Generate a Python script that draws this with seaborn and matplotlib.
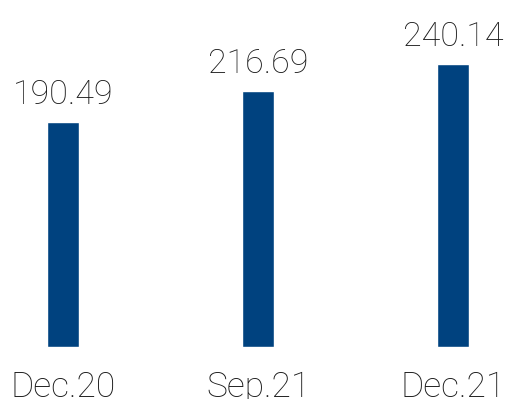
import matplotlib
matplotlib.use("Agg")
import matplotlib.pyplot as plt
import seaborn as sns
import pandas as pd

periods = ["Dec.20", "Sep.21", "Dec.21"]
values = [190.49, 216.69, 240.14]

bar_color = "#00427F"
text_color = "#1a1a1a"

sns.set_style("white")
plt.rcParams["font.family"] = ["Roboto", "DejaVu Sans"]

df = pd.DataFrame({"period": periods, "value": values})

fig = plt.figure(figsize=(5.06, 3.99), dpi=100)
ax = fig.add_axes([0, 52 / 399, 1, 347 / 399])

sns.barplot(data=df, x="period", y="value", color=bar_color, width=0.164,
            saturation=1, ax=ax)

ax.set_xlim(-0.323, 2.269)
ax.set_ylim(0, 294.2)

ax.bar_label(ax.containers[0], labels=[f"{v:.2f}" for v in values],
             padding=8, fontsize=24.5, color=text_color, fontweight="light")

ax.set_xlabel("")
ax.set_ylabel("")
ax.set_yticks([])
ax.tick_params(axis="x", length=0, pad=17, labelsize=25.5, labelcolor=text_color)
for lbl in ax.get_xticklabels():
    lbl.set_fontweight("light")
for s in ax.spines.values():
    s.set_visible(False)

fig.savefig("out.png", dpi=100)
